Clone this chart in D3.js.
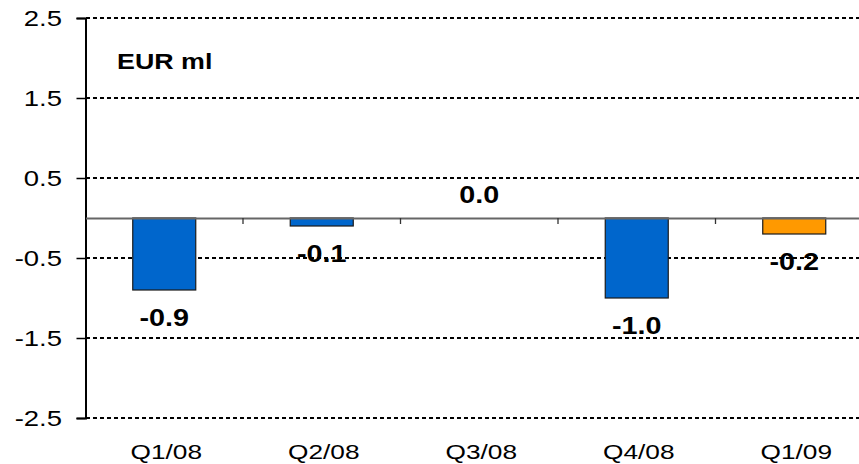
<!DOCTYPE html>
<html>
<head>
<meta charset="utf-8">
<script src="https://cdn.jsdelivr.net/npm/d3@7/dist/d3.min.js"></script>
<style>
  body { margin: 0; background: #fff; }
  svg { display: block; font-family: Arial, "Liberation Sans", sans-serif; }
</style>
</head>
<body>
<div id="chart"></div>
<script>
// chart data
var quarters = ["Q1/08", "Q2/08", "Q3/08", "Q4/08", "Q1/09"];
var values = [-0.9, -0.1, 0.0, -1.0, -0.2];
var labels = ["-0.9", "-0.1", "0.0", "-1.0", "-0.2"];
var barColors = ["#0066cc", "#0066cc", "#0066cc", "#0066cc", "#ff9900"];
var yTicks = [-2.5, -1.5, -0.5, 0.5, 1.5, 2.5];
var yTickLabels = ["-2.5", "-1.5", "-0.5", "0.5", "1.5", "2.5"];
var unitLabel = "EUR ml";

var width = 859, height = 464;
var stretch = 1.25; // the original text is drawn a little wide

var svg = d3.select("#chart").append("svg")
  .attr("width", width)
  .attr("height", height);

// plot area runs a bit past the right edge, like the original
var x = d3.scaleBand().domain(quarters).range([85.5, 873]).paddingInner(0).paddingOuter(0);
var y = d3.scaleLinear().domain([-2.5, 2.5]).range([418, 18]);

// dashed gridlines
svg.append("g")
  .selectAll("line")
  .data(yTicks)
  .enter().append("line")
  .attr("x1", 86)
  .attr("x2", width)
  .attr("y1", function(d) { return Math.round(y(d)); })
  .attr("y2", function(d) { return Math.round(y(d)); })
  .attr("stroke", "#000")
  .attr("stroke-width", 2)
  .attr("stroke-dasharray", "4,3");

// y axis
var yAxis = d3.axisLeft(y)
  .tickValues(yTicks)
  .tickFormat(function(d, i) { return yTickLabels[i]; })
  .tickSize(9);

var gy = svg.append("g")
  .attr("transform", "translate(85.5,0)")
  .call(yAxis);
gy.select(".domain").attr("stroke", "#000").attr("stroke-width", 2);
gy.selectAll(".tick line").attr("stroke", "#000").attr("stroke-width", 1.5);
gy.selectAll(".tick text")
  .attr("x", 0)
  .attr("dy", "0.35em")
  .attr("transform", "translate(-23.5,0) scale(" + stretch + ",1)")
  .attr("text-anchor", "end")
  .attr("font-size", "22px")
  .attr("fill", "#000")
  .attr("font-family", "Arial, 'Liberation Sans', sans-serif");

// bars
svg.selectAll(".bar")
  .data(values)
  .enter().append("rect")
  .attr("class", "bar")
  .attr("x", function(d, i) { return x(quarters[i]) + x.bandwidth() * 0.3; })
  .attr("width", x.bandwidth() * 0.4)
  .attr("y", function(d) { return y(Math.max(0, d)); })
  .attr("height", function(d) { return Math.abs(y(d) - y(0)); })
  .attr("fill", function(d, i) { return barColors[i]; })
  .attr("stroke", function(d) { return d === 0 ? "none" : "#1a1a1a"; })
  .attr("stroke-width", 1.2);

// category axis on the zero line
var xAxis = d3.axisBottom(x).tickSize(0).tickFormat("");
var gx = svg.append("g")
  .attr("transform", "translate(0," + y(0) + ")")
  .call(xAxis);
gx.select(".domain").attr("stroke", "#666").attr("stroke-width", 2);
gx.selectAll(".tick").remove();

// boundary ticks between categories
svg.append("g")
  .selectAll("line")
  .data(quarters.slice(1))
  .enter().append("line")
  .attr("x1", function(d) { return x(d); })
  .attr("x2", function(d) { return x(d); })
  .attr("y1", y(0))
  .attr("y2", y(0) + 6)
  .attr("stroke", "#333")
  .attr("stroke-width", 1.3);

// category labels below the plot
svg.append("g")
  .selectAll("text")
  .data(quarters)
  .enter().append("text")
  .attr("transform", function(d) {
    return "translate(" + (x(d) + x.bandwidth() / 2 + 2) + ",459) scale(" + stretch + ",1)";
  })
  .attr("text-anchor", "middle")
  .attr("font-size", "21px")
  .attr("fill", "#000")
  .text(function(d) { return d; });

// value labels
svg.append("g")
  .selectAll("text")
  .data(values)
  .enter().append("text")
  .attr("transform", function(d, i) {
    var ty = d < 0 ? y(d) + 36 : y(d) - 15;
    return "translate(" + (x(quarters[i]) + x.bandwidth() / 2) + "," + ty + ") scale(" + stretch + ",1)";
  })
  .attr("text-anchor", "middle")
  .attr("font-size", "23px")
  .attr("font-weight", "bold")
  .attr("fill", "#000")
  .text(function(d, i) { return labels[i]; });

// unit label
svg.append("text")
  .attr("transform", "translate(117,69) scale(1.22,1)")
  .attr("font-size", "22px")
  .attr("font-weight", "bold")
  .attr("fill", "#000")
  .text(unitLabel);
</script>
</body>
</html>
